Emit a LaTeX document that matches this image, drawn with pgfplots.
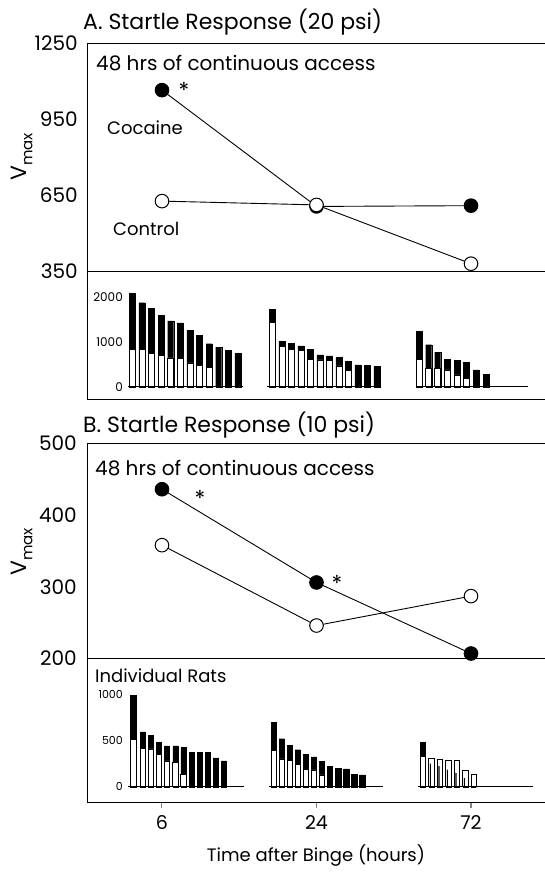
\documentclass[border=0pt]{standalone}
\usepackage{fontspec}
\setmainfont{Poppins}
\usepackage{pgfplots}
\usepackage{pgfplotstable}
\pgfplotsset{compat=1.18}
\newcommand{\fs}[1]{\fontsize{#1}{#1}\selectfont}

% Panel A inset bars: x position (px), cocaine, control
\pgfplotstableread{
x coc ctl
132.3 2075 836
141.9 1866 821
151.5 1746 746
161.1 1582 701
170.7 1463 642
180.3 1418 627
189.9 1254 530
199.5 1134 478
209.1 955 433
218.7 881 0
228.3 813 0
237.9 739 0
272.3 1716 1433
281.8 1007 896
291.3 970 836
300.8 910 806
310.3 836 612
319.8 709 597
329.3 687 582
338.8 649 463
348.3 560 358
357.8 485 0
367.3 478 0
376.8 448 0
419.0 1231 612
428.7 933 403
437.7 769 403
447.3 612 373
457.0 590 261
466.3 545 179
476.0 373 0
486.0 276 0
}\barsA

% Panel B inset bars
\pgfplotstableread{
x coc ctl
133.3 989 514
142.7 591 417
151.0 558 409
159.0 482 348
167.0 442 279
175.4 442 261
183.4 424 130
191.7 373 0
199.7 370 0
207.7 370 0
216.0 312 0
224.0 279 0
273.7 692 391
281.7 518 301
289.7 446 283
297.7 399 239
305.7 348 185
313.7 322 181
321.7 275 127
330.0 221 0
338.3 199 0
346.3 192 0
354.3 130 0
362.3 127 0
422.7 475 330
431.4 250 312
440.0 221 301
448.4 185 286
457.0 149 283
465.4 94 174
473.7 0 138
}\barsB

% Cocaine values hidden inside taller control bars (72 h, panel B)
\pgfplotstableread{
x coc
431.4 250
440.0 221
448.4 185
457.0 149
465.4 94
}\hiddenB

\pgfplotsset{
  mainax/.style={scale only axis, width=458pt, xmin=-0.4854, xmax=2.479,
    axis x line=box, axis y line=left,
    axis line style={-, line width=1pt},
    ytick style={draw=none},
    yticklabel style={font=\fs{20}, inner sep=0pt, xshift=-7pt},
    /pgf/number format/assume math mode=true,
    /pgf/number format/1000 sep={}, clip=false},
  insetax/.style={scale only axis, width=420pt, xmin=125, xmax=545,
    axis line style={draw=none}, tick style={draw=none}, xtick=\empty,
    yticklabel style={inner sep=0pt, xshift=-2pt},
    /pgf/number format/assume math mode=true,
    /pgf/number format/1000 sep={}, clip=false},
  coc/.style={black, line width=0.9pt, mark=*, mark size=6.8pt, mark options={fill=black, line width=1pt}},
  ctl/.style={black, line width=0.9pt, mark=*, mark size=6.8pt, mark options={fill=white, line width=1pt}},
}

\begin{document}
\begin{tikzpicture}[x=1pt,y=1pt]
\useasboundingbox (0,0) rectangle (545,-872);

% ---------- Panel A main ----------
\begin{axis}[mainax, height=356pt, ymin=-155, ymax=1250,
  ytick={350,650,950,1250}, xtick=\empty,
  at={(87pt,-399pt)}, anchor=south west]
\addplot[black, line width=1pt] coordinates {(-0.4854,350) (2.479,350)};
\addplot[coc] coordinates {(0,1064) (1,605) (2,608)};
\addplot[ctl] coordinates {(0,626) (1,611) (2,379)};
\end{axis}

% ---------- Panel A inset ----------
\begin{axis}[insetax, height=126pt, ymin=-273, ymax=2527,
  ytick={0,1000,2000}, yticklabel style={font=\fs{12}},
  at={(125pt,-399pt)}, anchor=south west]
\addplot[ybar, bar width=6, bar shift=0pt, fill=black, draw=black] table[x=x, y=coc] {\barsA};
\addplot[ybar, bar width=6, bar shift=0pt, fill=white, draw=black, line width=0.6pt] table[x=x, y=ctl] {\barsA};
\addplot[black, line width=0.9pt] coordinates {(128,0) (243,0)};
\addplot[black, line width=0.9pt] coordinates {(267,0) (381,0)};
\addplot[black, line width=0.9pt] coordinates {(416,0) (528,0)};
\end{axis}

% ---------- Panel B main ----------
\begin{axis}[mainax, height=358.7pt, ymin=0, ymax=500,
  ytick={200,300,400,500},
  xtick={0,1,2}, xticklabels={6,24,72}, xtick pos=bottom,
  xtick align=outside, major tick length=6pt,
  xtick style={line width=1pt},
  xticklabel style={font=\fs{19}, yshift=-4pt},
  at={(87pt,-802pt)}, anchor=south west]
\addplot[black, line width=1pt] coordinates {(-0.4854,200) (2.479,200)};
\addplot[coc] coordinates {(0,436) (1,306) (2,207)};
\addplot[ctl] coordinates {(0,358) (1,246) (2,287)};
\end{axis}

% ---------- Panel B inset ----------
\begin{axis}[insetax, height=143pt, ymin=-165, ymax=1378,
  ytick={0,500,1000}, yticklabel style={font=\fs{11}},
  at={(125pt,-802pt)}, anchor=south west]
\addplot[ybar, bar width=5.3, bar shift=0pt, fill=black, draw=black] table[x=x, y=coc] {\barsB};
\addplot[ybar, bar width=5.3, bar shift=0pt, fill=white, draw=black, line width=0.6pt] table[x=x, y=ctl] {\barsB};
\addplot[ybar, bar width=1.1, bar shift=-1pt, fill=black, draw=none] table[x=x, y=coc] {\hiddenB};
\addplot[black, line width=0.9pt] coordinates {(128,0) (244,0)};
\addplot[black, line width=0.9pt] coordinates {(269,0) (383,0)};
\addplot[black, line width=0.9pt] coordinates {(418,0) (533,0)};
\end{axis}

% ---------- Texts ----------
\node[anchor=west, font=\fs{22}, inner sep=0pt] at (83,-22) {A. Startle Response (20 psi)};
\node[anchor=west, font=\fs{20}, inner sep=0pt] at (96,-63) {48 hrs of continuous access};
\node[anchor=west, font=\fs{18}, inner sep=0pt] at (107,-128) {Cocaine};
\node[anchor=west, font=\fs{18}, inner sep=0pt] at (113,-229) {Control};
\node[font=\fs{22}, inner sep=0pt] at (184,-90) {*};

\node[anchor=west, font=\fs{22}, inner sep=0pt] at (83,-425) {B. Startle Response (10 psi)};
\node[anchor=west, font=\fs{20}, inner sep=0pt] at (95,-468) {48 hrs of continuous access};
\node[anchor=west, font=\fs{18}, inner sep=0pt] at (95,-676) {Individual Rats};
\node[font=\fs{22}, inner sep=0pt] at (200,-498) {*};
\node[font=\fs{22}, inner sep=0pt] at (337,-583) {*};

\node[rotate=90, font=\fs{22}, inner sep=0pt] at (22,-157) {V\raisebox{-0.25em}{\fs{15}max}};
\node[rotate=90, font=\fs{22}, inner sep=0pt] at (22,-552) {V\raisebox{-0.25em}{\fs{15}max}};
\node[font=\fs{18}, inner sep=0pt] at (316,-856) {Time after Binge (hours)};
\end{tikzpicture}
\end{document}
